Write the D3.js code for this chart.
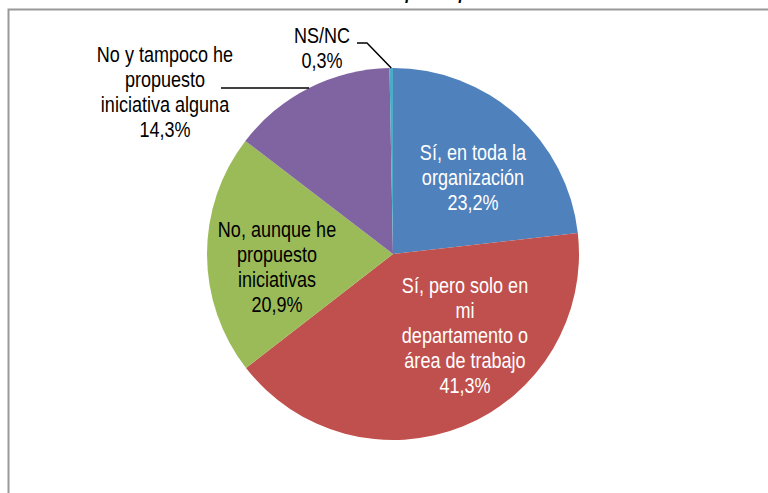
<!DOCTYPE html>
<meta charset="utf-8">
<style>
body {
    margin: 0;
    background: #fff;
}
.title {
    font-family: "Liberation Sans", Arial, sans-serif;
    font-weight: bold;
    font-style: italic;
    font-size: 16px;
}
.lbl {
    font-size: 22px;
}
.leader {
    fill: none;
    stroke: #000;
    stroke-width: 1.5px;
}
</style>
<body>
<script src="https://d3js.org/d3.v7.min.js"></script>
<script>
// data
var categories = ["Sí, en toda la organización",
    "Sí, pero solo en mi departamento o área de trabajo",
    "No, aunque he propuesto iniciativas",
    "No y tampoco he propuesto iniciativa alguna",
    "NS/NC"];
var values = [23.2, 41.3, 20.9, 14.3, 0.3];
var labelLines = [
    ["Sí, en toda la", "organización"],
    ["Sí, pero solo en", "mi", "departamento o", "área de trabajo"],
    ["No, aunque he", "propuesto", "iniciativas"],
    ["No y tampoco he", "propuesto", "iniciativa  alguna"],
    ["NS/NC"]
];
var colors = ["#4F81BD", "#C0504D", "#9BBB59", "#8064A2", "#4BACC6"];
var titleText = "Se ha comunicado la idea por su parte a la dirección";

// layout
var W = 768, H = 493;
var cx = 393, cy = 254, radius = 186;
// label anchor: centre x and first baseline, relative to the pie centre
var labelPos = [
    { x: 80, y: -94, fill: "#fff" },
    { x: 72, y: 39, fill: "#fff" },
    { x: -116, y: -17, fill: "#000" },
    { x: -228, y: -192, fill: "#000" },
    { x: -71, y: -211, fill: "#000" }
];
var lineH = 25;

var svg = d3.select("body").append("svg")
    .attr("width", W)
    .attr("height", H);

// chart frame (only top and left edges are in view)
svg.append("rect")
    .attr("x", 8.5).attr("y", 9.5)
    .attr("width", W + 20).attr("height", H + 20)
    .attr("fill", "none")
    .attr("stroke", "#999")
    .attr("stroke-width", 2);

// title, cut off at the top of the picture like in the original
svg.append("text")
    .attr("class", "title")
    .attr("x", 405).attr("y", 0)
    .attr("text-anchor", "middle")
    .text(titleText);

// check for a narrow font, otherwise squeeze the regular one
var probe = svg.append("text").attr("class", "lbl")
    .style("font-family", "'Liberation Sans Narrow', 'Liberation Sans'").text("No y tampoco he");
var wNarrow = probe.node().getComputedTextLength();
probe.style("font-family", "'Liberation Sans'");
var wReg = probe.node().getComputedTextLength();
probe.remove();
var haveNarrow = wNarrow < wReg * 0.95;
var fontFam = haveNarrow ? "'Liberation Sans Narrow'" : "'Liberation Sans', Arial, sans-serif";
var sx = haveNarrow ? 1 : 0.82;

var g = svg.append("g").attr("transform", "translate(" + cx + "," + cy + ")");

var pie = d3.pie().sort(null).value(function(d) { return d; });
var arcs = pie(values);
var arc = d3.arc().innerRadius(0).outerRadius(radius);

g.selectAll(".slice")
    .data(arcs)
    .enter()
    .append("path")
    .attr("class", "slice")
    .attr("d", arc)
    .attr("fill", function(d, i) { return colors[i]; });

var fmt = function(v) { return d3.format(".1f")(v).replace(".", ",") + "%"; };

// leader lines for the two outside labels
var edge = function(d) {
    var a = (d.startAngle + d.endAngle) / 2;
    return [radius * Math.sin(a), -radius * Math.cos(a)];
};
var pPurple = edge(arcs[3]);
g.append("path").attr("class", "leader")
    .attr("d", d3.line()([[-172, -166], pPurple]));
var pCyan = edge(arcs[4]);
g.append("path").attr("class", "leader")
    .attr("d", d3.line()([[-36, -211], [-26, -211], pCyan]));

// labels
arcs.forEach(function(d, i) {
    var lines = labelLines[i].concat([fmt(values[i])]);
    var p = labelPos[i];
    var t = g.append("g").attr("class", "lbl-g");
    lines.forEach(function(s, k) {
        t.append("text")
            .attr("class", "lbl")
            .attr("transform", "translate(" + p.x + "," + (p.y + k * lineH) + ") scale(" + sx + ",1)")
            .attr("text-anchor", "middle")
            .style("font-family", fontFam)
            .attr("fill", p.fill)
            .text(s);
    });
});
</script>
</body>
